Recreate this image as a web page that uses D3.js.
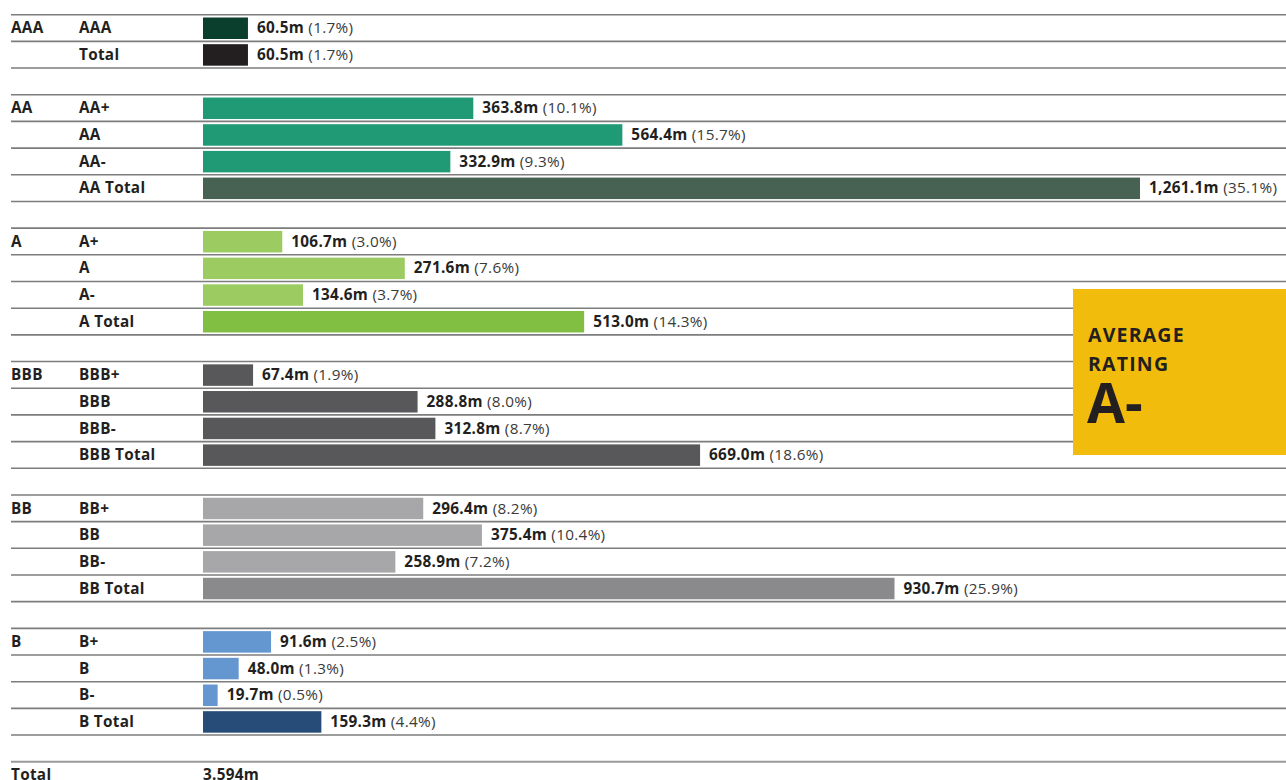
<!DOCTYPE html>
<html>
<head>
<meta charset="utf-8">
<script src="https://cdn.jsdelivr.net/npm/d3@7"></script>
<style>
  html, body { margin: 0; padding: 0; background: #fff; }
  svg { display: block; }
  text { font-family: "Open Sans", "Noto Sans", sans-serif; }
</style>
</head>
<body>
<svg id="chart" width="1286" height="780"></svg>
<script>
// ---- Data ----
const groupLabels = ["AAA", "AA", "A", "BBB", "BB", "B"];
const rowLabels = [
  ["AAA", "Total"],
  ["AA+", "AA", "AA-", "AA Total"],
  ["A+", "A", "A-", "A Total"],
  ["BBB+", "BBB", "BBB-", "BBB Total"],
  ["BB+", "BB", "BB-", "BB Total"],
  ["B+", "B", "B-", "B Total"]
];
const values = [
  [60.5, 60.5],
  [363.8, 564.4, 332.9, 1261.1],
  [106.7, 271.6, 134.6, 513.0],
  [67.4, 288.8, 312.8, 669.0],
  [296.4, 375.4, 258.9, 930.7],
  [91.6, 48.0, 19.7, 159.3]
];
const shares = [
  [1.7, 1.7],
  [10.1, 15.7, 9.3, 35.1],
  [3.0, 7.6, 3.7, 14.3],
  [1.9, 8.0, 8.7, 18.6],
  [8.2, 10.4, 7.2, 25.9],
  [2.5, 1.3, 0.5, 4.4]
];
const gradeColors = ["#0b3f2d", "#1f9a74", "#9ccb62", "#58585a", "#a7a7a9", "#6497d0"];
const totalColors = ["#231f20", "#476153", "#80bf41", "#58585a", "#8a8a8c", "#264c77"];
const grandTotalLabel = "Total";
const grandTotalValue = "3.594m";
const averageTitle = ["AVERAGE", "RATING"];
const averageRating = "A-";

// ---- Build rows ----
const rows = [];
const slots = [];
groupLabels.forEach((g, gi) => {
  rowLabels[gi].forEach((r, ri) => {
    const key = g + "|" + r;
    rows.push({
      key, group: g, gi, ri, label: r,
      first: ri === 0,
      last: ri === rowLabels[gi].length - 1,
      value: values[gi][ri], share: shares[gi][ri],
      color: ri === rowLabels[gi].length - 1 ? totalColors[gi] : gradeColors[gi]
    });
    slots.push(key);
  });
  slots.push("spacer" + gi);
});
slots.push("grandTotal");

const svg = d3.select("#chart");
const W = 1286;

// band scale over slots (each slot = one row), no padding: slot start = row top line
const y = d3.scaleBand()
  .domain(slots)
  .range([14.7, 14.7 + 26.68 * slots.length])
  .padding(0);
const step = y.step();
const slotY = k => y(k);

const x = d3.scaleLinear().domain([0, 1261.1]).range([203, 1140]);

const lineColor = "#7d7d7d";

// separator lines
const lines = svg.append("g");
rows.forEach(d => {
  if (d.first) {
    lines.append("line").attr("x1", 11).attr("x2", W)
      .attr("y1", slotY(d.key)).attr("y2", slotY(d.key))
      .attr("stroke", lineColor).attr("stroke-width", 1.6);
  }
  lines.append("line").attr("x1", 11).attr("x2", W)
    .attr("y1", slotY(d.key) + step).attr("y2", slotY(d.key) + step)
    .attr("stroke", lineColor).attr("stroke-width", 1.6);
});
lines.append("line").attr("x1", 11).attr("x2", W)
  .attr("y1", slotY("grandTotal")).attr("y2", slotY("grandTotal"))
  .attr("stroke", "#9a9a9a").attr("stroke-width", 2);

// bars
svg.append("g").selectAll("rect").data(rows).join("rect")
  .attr("x", x(0))
  .attr("y", d => slotY(d.key) + 2.8)
  .attr("width", d => x(d.value) - x(0))
  .attr("height", 21.5)
  .attr("fill", d => d.color);

// labels
const fmt = d3.format(",.1f");
const labelG = svg.append("g").attr("font-size", 15.3).attr("fill", "#231f20")
  .attr("letter-spacing", 0.3);
rows.forEach(d => {
  const cy = slotY(d.key) + step / 2 + 5.3;
  if (d.first) {
    labelG.append("text").attr("x", 11).attr("y", cy)
      .attr("font-weight", 700).text(d.group);
  }
  labelG.append("text").attr("x", 79).attr("y", cy)
    .attr("font-weight", 700).text(d.label);
  const t = labelG.append("text").attr("x", x(d.value) + 9).attr("y", cy);
  t.append("tspan").attr("font-weight", 700).text(fmt(d.value) + "m");
  t.append("tspan").attr("fill", "#3a3a3a").text(" (" + d.share.toFixed(1) + "%)");
});
const gy = slotY("grandTotal") + step / 2 + 4.6;
labelG.append("text").attr("x", 11).attr("y", gy).attr("font-weight", 700).text(grandTotalLabel);
labelG.append("text").attr("x", 203).attr("y", gy).attr("font-weight", 700).text(grandTotalValue);

// average rating box
const box = svg.append("g");
box.append("rect").attr("x", 1073).attr("y", 289).attr("width", W - 1073).attr("height", 166)
  .attr("fill", "#f2bc0c");
box.append("text").attr("x", 1088).attr("y", 342).attr("font-size", 19.5).attr("font-weight", 700)
  .attr("fill", "#231f20").attr("letter-spacing", 1.2).text(averageTitle[0]);
box.append("text").attr("x", 1088).attr("y", 371).attr("font-size", 19.5).attr("font-weight", 700)
  .attr("fill", "#231f20").attr("letter-spacing", 1.2).text(averageTitle[1]);
box.append("text").attr("x", 1087).attr("y", 423).attr("font-size", 55).attr("font-weight", 700)
  .attr("fill", "#231f20").text(averageRating);
</script>
</body>
</html>
